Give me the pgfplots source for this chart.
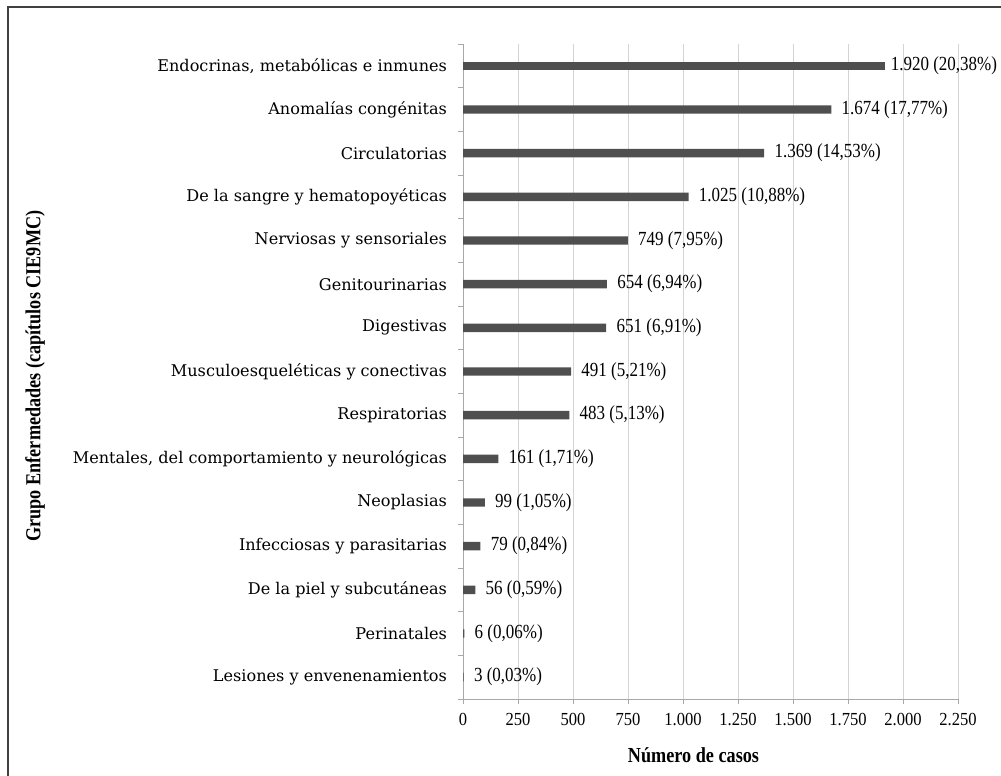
\documentclass[border=0pt]{standalone}
\usepackage{fontspec}
\setmainfont{Liberation Serif}
\newfontfamily\catfont{DejaVu Serif}
\newfontfamily\condfont[FakeStretch=0.85]{Liberation Serif}
\newfontfamily\tickfont[FakeStretch=0.9]{Liberation Serif}
\usepackage{pgfplots}
\pgfplotsset{compat=1.18}
\definecolor{barc}{HTML}{4F4F4F}
\definecolor{gridc}{HTML}{D4D4D4}
\definecolor{axc}{HTML}{A8A8A8}
\begin{document}
\begin{tikzpicture}[x=1pt,y=1pt]
\useasboundingbox (0,0) rectangle (500.5,-388);
\draw[black!75, line width=0.7pt] (4,-400) -- (4,-3.5) -- (510,-3.5);
\begin{axis}[
 at={(231.5pt,-349.5pt)}, anchor=south west,
 scale only axis, width=247.5pt, height=327.5pt,
 xmin=0, xmax=2250, ymin=-0.5, ymax=14.5,
 axis x line*=bottom, axis y line*=left,
 axis line style={axc, line width=0.5pt},
 xtick={0,250,...,2250},
 ytick={0,...,14},
 yticklabels={Lesiones y envenenamientos, Perinatales, De la piel y subcutáneas, Infecciosas y parasitarias, Neoplasias, {Mentales, del comportamiento y neurológicas}, Respiratorias, Musculoesqueléticas y conectivas, Digestivas, Genitourinarias, Nerviosas y sensoriales, De la sangre y hematopoyéticas, Circulatorias, Anomalías congénitas, {Endocrinas, metabólicas e inmunes}},
 minor ytick={-0.5,0.5,...,14.5},
 tick align=outside,
 major tick length=2.5pt, minor tick length=2.5pt,
 major y tick style={draw=none},
 minor y tick style={axc, line width=0.5pt},
 major x tick style={axc, line width=0.5pt},
 xmajorgrids, major x grid style={gridc, line width=0.5pt},
 /pgf/number format/assume math mode=true,
 /pgf/number format/1000 sep={.},
 xticklabel style={font=\tickfont\fontsize{9.2}{10}\selectfont, yshift=-1pt},
 yticklabel style={font=\catfont\fontsize{8.05}{9}\selectfont, anchor=east, xshift=-2pt},
 xlabel={Número de casos},
 xlabel style={font=\condfont\bfseries\fontsize{10.7}{12}\selectfont, at={(axis description cs:0.5,0)}, anchor=center, yshift=-28pt, xshift=-8.5pt},
 clip=false,
]
\addplot[xbar, bar width=4.2pt, bar shift=0pt, fill=barc, draw=none,
  nodes near coords, point meta=explicit symbolic,
  nodes near coords style={font=\condfont\fontsize{10}{11}\selectfont, anchor=west, inner sep=0pt, xshift=5pt, black}]
 coordinates {
 (3,0) [3 (0,03\%)]
 (6,1) [6 (0,06\%)]
 (56,2) [56 (0,59\%)]
 (79,3) [79 (0,84\%)]
 (99,4) [99 (1,05\%)]
 (161,5) [161 (1,71\%)]
 (483,6) [483 (5,13\%)]
 (491,7) [491 (5,21\%)]
 (651,8) [651 (6,91\%)]
 (654,9) [654 (6,94\%)]
 (749,10) [749 (7,95\%)]
 (1025,11) [1.025 (10,88\%)]
 (1369,12) [1.369 (14,53\%)]
 (1674,13) [1.674 (17,77\%)]
 };
\addplot[xbar, bar width=4.2pt, bar shift=0pt, fill=barc, draw=none,
  nodes near coords, point meta=explicit symbolic,
  nodes near coords style={font=\condfont\fontsize{10}{11}\selectfont, anchor=west, inner sep=0pt, xshift=2.5pt, black}]
 coordinates {
 (1920,14) [1.920 (20,38\%)]
 };
\end{axis}
\node[rotate=90, font=\condfont\bfseries\fontsize{10.7}{12}\selectfont] at (17.5,-188) {Grupo Enfermedades (capítulos CIE9MC)};
\end{tikzpicture}
\end{document}
